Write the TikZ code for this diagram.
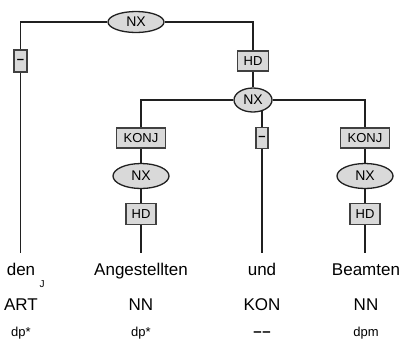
\documentclass[tikz,border=0pt]{standalone}
\usepackage{fontspec}
\setmainfont{Liberation Sans}
\usetikzlibrary{shapes.geometric,backgrounds}
\definecolor{nodegray}{HTML}{D9D9D9}
\definecolor{edgegray}{HTML}{202020}
\definecolor{bordergray}{HTML}{404040}

\begin{document}
\begin{tikzpicture}[x=1pt,y=-1pt,
    cat/.style={ellipse,draw=edgegray,line width=1.3pt,fill=nodegray,inner sep=0pt,
      font=\fontsize{14}{14}\selectfont},
    func/.style={rectangle,draw=bordergray,line width=1.5pt,fill=nodegray,inner sep=0pt,
      minimum height=20pt,font=\fontsize{13}{13}\selectfont},
    word/.style={anchor=base,inner sep=0pt,font=\fontsize{17}{17}\selectfont},
    morph/.style={anchor=base,inner sep=0pt,font=\fontsize{13}{13}\selectfont},
    edge/.style={line width=1.3pt,edgegray}]
    \useasboundingbox (0,0) rectangle (401,349);
    % phrase nodes
    \node[cat,minimum width=56pt,minimum height=21pt] (nxtop) at (136,22) {NX};
    \node[func,minimum width=13pt,minimum height=22pt] (dshden) at (20.5,61) {\textbf{--}};
    \node[func,minimum width=31pt] (hdtop) at (253,61) {HD};
    \node[cat,minimum width=38pt,minimum height=24pt] (nxkon) at (253,100) {NX};
    \node[func,minimum width=49pt] (konjang) at (141,138) {KONJ};
    \node[cat,minimum width=56pt,minimum height=25pt] (nxang) at (141,176) {NX};
    \node[func,minimum width=30pt,minimum height=21pt] (hdang) at (141,214) {HD};
    \node[func,minimum width=12pt,minimum height=21pt] (dshund) at (262,138) {\textbf{--}};
    \node[func,minimum width=49pt] (konjbea) at (365,138) {KONJ};
    \node[cat,minimum width=56pt,minimum height=25pt] (nxbea) at (365,176) {NX};
    \node[func,minimum width=30pt,minimum height=21pt] (hdbea) at (365,214) {HD};
    % leaves
    \coordinate (leafden) at (20.5,253);
    \coordinate (leafang) at (141,253);
    \coordinate (leafund) at (262,253);
    \coordinate (leafbea) at (365,253);
    \node[word] (den) at (21,275) {den};
    \node[word] (ang) at (141,275) {Angestellten};
    \node[word] (und) at (262,275) {und};
    \node[word] (bea) at (366,275) {Beamten};
    \node[inner sep=0pt,font=\fontsize{10}{10}\selectfont] (mark) at (42,284) {J};
    \node[word] (art) at (21,310) {ART};
    \node[word] (nnang) at (141,310) {NN};
    \node[word] (kon) at (262,310) {KON};
    \node[word] (nnbea) at (366,310) {NN};
    \node[morph] (mden) at (21,336) {dp*};
    \node[morph] (mang) at (141,336) {dp*};
    \node[morph,font=\fontsize{15}{15}\selectfont] (mund) at (262,336) {\textbf{--}\kern0.6pt\textbf{--}};
    \node[morph] (mbea) at (366,336) {dpm};
    % edges
    \begin{scope}[on background layer]
      \draw[edge] (nxtop) -| (dshden);
      \draw[edge] (dshden) -- (leafden);
      \draw[edge] (nxtop) -| (hdtop);
      \draw[edge] (hdtop) -- (nxkon);
      \draw[edge] (nxkon) -| (konjang);
      \draw[edge] (nxkon) -| (konjbea);
      \draw[edge] (dshund |- nxkon) -- (dshund);
      \draw[edge] (dshund) -- (leafund);
      \draw[edge] (konjang) -- (nxang);
      \draw[edge] (nxang) -- (hdang);
      \draw[edge] (hdang) -- (leafang);
      \draw[edge] (konjbea) -- (nxbea);
      \draw[edge] (nxbea) -- (hdbea);
      \draw[edge] (hdbea) -- (leafbea);
    \end{scope}
\end{tikzpicture}
\end{document}
